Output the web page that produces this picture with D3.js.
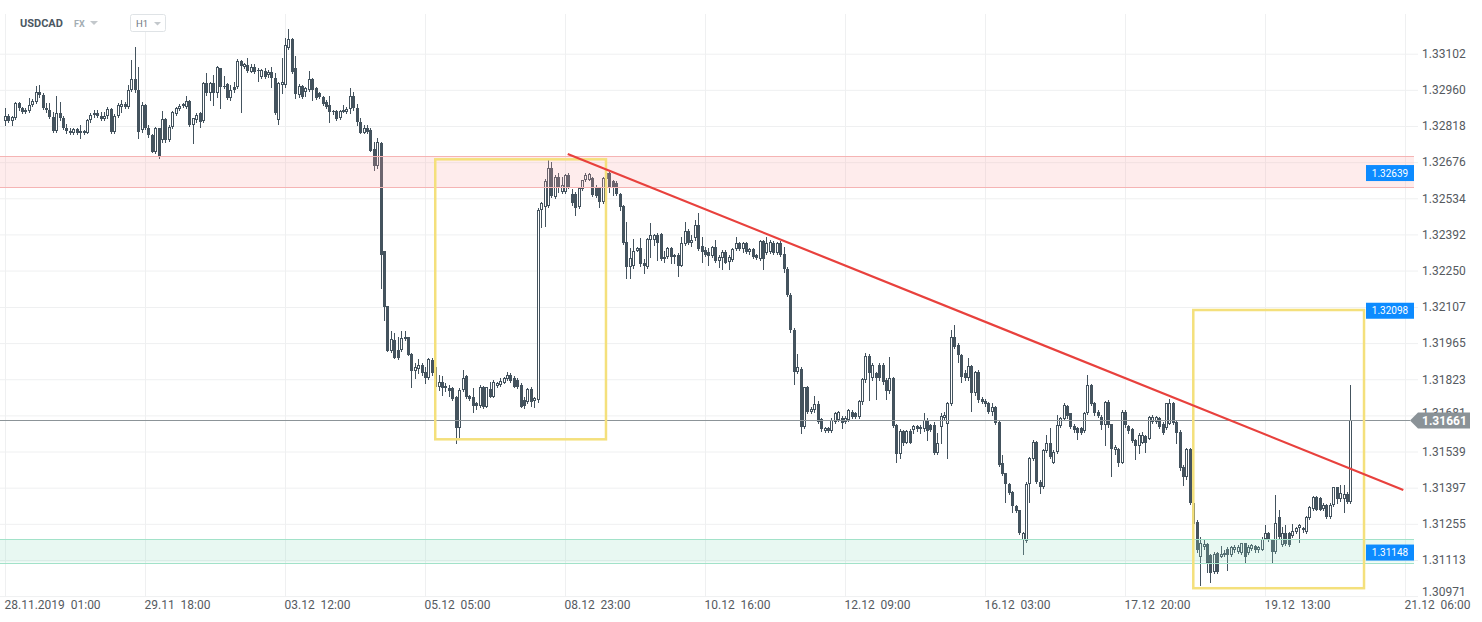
<!DOCTYPE html>
<html><head><meta charset="utf-8">
<script src="https://cdn.jsdelivr.net/npm/d3@7"></script>
<style>
html,body{margin:0;padding:0;background:#fff;overflow:hidden;}
svg{display:block;font-family:Roboto,"Noto Sans",sans-serif;}
</style></head><body>
<svg id="chart" width="1482" height="622"></svg>
<script>
const symbol = "USDCAD";
const market = "FX";
const interval = "H1";

const opens = [
1.32838,1.32859,1.32838,1.32851,1.32907,1.32887,1.32872,1.32877,1.32901,1.32911,
1.32953,1.32940,1.32887,1.32881,1.32855,1.32798,1.32868,1.32848,1.32809,1.32798,
1.32789,1.32805,1.32789,1.32798,1.32789,1.32842,1.32861,1.32868,1.32859,1.32844,
1.32859,1.32885,1.32793,1.32859,1.32894,1.32905,1.32894,1.32960,1.33003,1.32960,
1.32802,1.32901,1.32809,1.32783,1.32717,1.32809,1.32763,1.32844,1.32763,1.32815,
1.32864,1.32885,1.32897,1.32894,1.32916,1.32822,1.32842,1.32868,1.32838,1.32986,
1.32946,1.32986,1.32946,1.33045,1.32977,1.32982,1.32929,1.32973,1.32973,1.33074,
1.33051,1.33058,1.33032,1.33051,1.33038,1.33012,1.33034,1.33018,1.33029,1.33005,
1.32842,1.32979,1.32979,1.33126,1.33160,1.33045,1.32940,1.32977,1.32953,1.32960,
1.33003,1.32966,1.32946,1.32933,1.32914,1.32901,1.32877,1.32877,1.32848,1.32874,
1.32874,1.32885,1.32935,1.32890,1.32835,1.32792,1.32809,1.32803,1.32727,1.32661,
1.32753,1.32325,1.32111,1.31935,1.31977,1.31938,1.31938,1.31980,1.31988,1.31921,
1.31857,1.31862,1.31879,1.31853,1.31827,1.31899,1.31873,1.31794,1.31814,1.31787,
1.31787,1.31787,1.31755,1.31630,1.31781,1.31836,1.31757,1.31752,1.31728,1.31718,
1.31794,1.31715,1.31784,1.31755,1.31797,1.31801,1.31810,1.31823,1.31840,1.31827,
1.31820,1.31801,1.31742,1.31735,1.31784,1.31739,1.31742,1.32488,1.32501,1.32504,
1.32652,1.32538,1.32619,1.32560,1.32560,1.32626,1.32551,1.32551,1.32499,1.32570,
1.32604,1.32606,1.32613,1.32573,1.32573,1.32521,1.32609,1.32635,1.32600,1.32593,
1.32551,1.32504,1.32364,1.32263,1.32266,1.32328,1.32338,1.32281,1.32263,1.32370,
1.32370,1.32390,1.32394,1.32294,1.32302,1.32338,1.32311,1.32311,1.32268,1.32355,
1.32407,1.32359,1.32376,1.32429,1.32346,1.32330,1.32324,1.32307,1.32344,1.32289,
1.32298,1.32324,1.32285,1.32291,1.32333,1.32357,1.32333,1.32359,1.32324,1.32333,
1.32311,1.32294,1.32367,1.32320,1.32324,1.32359,1.32320,1.32359,1.32317,1.32255,
1.32154,1.32016,1.31852,1.31865,1.31636,1.31793,1.31695,1.31702,1.31725,1.31665,
1.31620,1.31630,1.31620,1.31656,1.31662,1.31669,1.31656,1.31662,1.31695,1.31691,
1.31673,1.31734,1.31820,1.31914,1.31826,1.31846,1.31879,1.31879,1.31820,1.31778,
1.31826,1.31643,1.31529,1.31620,1.31573,1.31620,1.31623,1.31639,1.31636,1.31626,
1.31662,1.31643,1.31643,1.31534,1.31636,1.31669,1.31647,1.31725,1.31987,1.31957,
1.31918,1.31848,1.31826,1.31875,1.31767,1.31852,1.31744,1.31738,1.31728,1.31695,
1.31712,1.31656,1.31492,1.31453,1.31413,1.31381,1.31324,1.31309,1.31191,1.31188,
1.31413,1.31508,1.31577,1.31420,1.31398,1.31542,1.31573,1.31495,1.31538,1.31639,
1.31665,1.31718,1.31689,1.31639,1.31630,1.31630,1.31621,1.31689,1.31800,1.31728,
1.31695,1.31676,1.31643,1.31735,1.31647,1.31545,1.31547,1.31495,1.31695,1.31639,
1.31626,1.31584,1.31560,1.31573,1.31600,1.31590,1.31656,1.31656,1.31669,1.31649,
1.31630,1.31649,1.31728,1.31656,1.31617,1.31479,1.31437,1.31547,1.31335,1.31263,
1.31125,1.31165,1.31175,1.31132,1.31066,1.31141,1.31125,1.31132,1.31158,1.31132,
1.31152,1.31145,1.31141,1.31178,1.31141,1.31158,1.31167,1.31152,1.31154,1.31197,
1.31220,1.31194,1.31145,1.31283,1.31171,1.31220,1.31220,1.31207,1.31224,1.31237,
1.31230,1.31224,1.31276,1.31315,1.31361,1.31355,1.31315,1.31328,1.31280,1.31328,
1.31398,1.31351,1.31351,1.31374,1.31342];

const highs = [
1.32890,1.32864,1.32859,1.32911,1.32911,1.32894,1.32890,1.32927,1.32924,1.32975,
1.32979,1.32946,1.32907,1.32907,1.32872,1.32937,1.32914,1.32859,1.32825,1.32809,
1.32809,1.32812,1.32822,1.32802,1.32846,1.32868,1.32881,1.32881,1.32872,1.32872,
1.32894,1.32890,1.32864,1.32907,1.32920,1.32911,1.32979,1.33077,1.33127,1.33051,
1.32914,1.32903,1.32822,1.32785,1.32815,1.32812,1.32877,1.32848,1.32822,1.32877,
1.32894,1.32903,1.32907,1.32937,1.32919,1.32851,1.32868,1.32872,1.32990,1.33025,
1.32990,1.33018,1.33055,1.33047,1.33016,1.32986,1.32979,1.32992,1.33081,1.33077,
1.33064,1.33087,1.33060,1.33060,1.33045,1.33042,1.33047,1.33038,1.33051,1.33025,
1.32992,1.33084,1.33163,1.33199,1.33163,1.33091,1.32982,1.32979,1.32973,1.33034,
1.33005,1.32973,1.32953,1.32937,1.32920,1.32937,1.32881,1.32881,1.32881,1.32901,
1.32894,1.32966,1.32950,1.32905,1.32850,1.32822,1.32822,1.32809,1.32757,1.32770,
1.32757,1.32325,1.32111,1.32014,1.32003,1.31990,1.32014,1.32014,1.31990,1.31925,
1.31888,1.31901,1.31888,1.31873,1.31905,1.31905,1.31879,1.31840,1.31836,1.31807,
1.31801,1.31794,1.31757,1.31787,1.31859,1.31840,1.31761,1.31787,1.31735,1.31801,
1.31797,1.31794,1.31814,1.31820,1.31814,1.31827,1.31831,1.31853,1.31846,1.31836,
1.31827,1.31807,1.31755,1.31787,1.31794,1.31752,1.32495,1.32521,1.32609,1.32685,
1.32678,1.32626,1.32632,1.32619,1.32630,1.32635,1.32570,1.32560,1.32573,1.32606,
1.32632,1.32635,1.32617,1.32587,1.32580,1.32617,1.32645,1.32639,1.32606,1.32600,
1.32554,1.32508,1.32442,1.32338,1.32373,1.32344,1.32377,1.32294,1.32377,1.32436,
1.32394,1.32397,1.32399,1.32325,1.32344,1.32342,1.32315,1.32318,1.32383,1.32442,
1.32412,1.32389,1.32448,1.32477,1.32380,1.32344,1.32337,1.32346,1.32372,1.32311,
1.32330,1.32330,1.32311,1.32337,1.32380,1.32363,1.32363,1.32363,1.32337,1.32337,
1.32317,1.32372,1.32372,1.32383,1.32372,1.32367,1.32363,1.32367,1.32344,1.32265,
1.32160,1.32023,1.31922,1.31872,1.31793,1.31796,1.31715,1.31757,1.31737,1.31669,
1.31636,1.31636,1.31669,1.31695,1.31699,1.31678,1.31678,1.31708,1.31702,1.31695,
1.31741,1.31826,1.31927,1.31922,1.31885,1.31852,1.31885,1.31885,1.31826,1.31909,
1.31830,1.31647,1.31626,1.31623,1.31623,1.31626,1.31643,1.31643,1.31643,1.31689,
1.31669,1.31647,1.31656,1.31610,1.31689,1.31695,1.31734,1.32016,1.32036,1.31964,
1.31922,1.31859,1.31905,1.31880,1.31856,1.31859,1.31754,1.31744,1.31734,1.31728,
1.31717,1.31662,1.31525,1.31456,1.31416,1.31385,1.31328,1.31311,1.31224,1.31420,
1.31518,1.31584,1.31581,1.31427,1.31547,1.31604,1.31630,1.31545,1.31682,1.31676,
1.31728,1.31723,1.31691,1.31649,1.31636,1.31636,1.31695,1.31839,1.31804,1.31735,
1.31702,1.31682,1.31738,1.31741,1.31649,1.31564,1.31551,1.31702,1.31702,1.31643,
1.31630,1.31590,1.31610,1.31617,1.31604,1.31678,1.31682,1.31678,1.31676,1.31656,
1.31731,1.31744,1.31735,1.31662,1.31623,1.31486,1.31551,1.31551,1.31338,1.31269,
1.31204,1.31191,1.31180,1.31138,1.31145,1.31145,1.31167,1.31152,1.31165,1.31167,
1.31171,1.31171,1.31180,1.31180,1.31171,1.31175,1.31171,1.31167,1.31204,1.31250,
1.31224,1.31197,1.31368,1.31309,1.31243,1.31250,1.31224,1.31254,1.31243,1.31254,
1.31243,1.31285,1.31325,1.31364,1.31364,1.31361,1.31335,1.31332,1.31335,1.31400,
1.31400,1.31407,1.31407,1.31381,1.31800];

const lows = [
1.32822,1.32832,1.32822,1.32846,1.32881,1.32868,1.32868,1.32872,1.32898,1.32907,
1.32933,1.32885,1.32872,1.32851,1.32796,1.32793,1.32842,1.32806,1.32789,1.32785,
1.32785,1.32785,1.32770,1.32785,1.32789,1.32835,1.32855,1.32855,1.32842,1.32842,
1.32848,1.32791,1.32791,1.32855,1.32874,1.32890,1.32890,1.32956,1.32953,1.32770,
1.32796,1.32806,1.32776,1.32715,1.32711,1.32694,1.32756,1.32756,1.32759,1.32812,
1.32861,1.32881,1.32894,1.32890,1.32819,1.32750,1.32835,1.32815,1.32835,1.32940,
1.32920,1.32901,1.32933,1.32887,1.32969,1.32924,1.32920,1.32953,1.32969,1.32874,
1.33047,1.33029,1.33029,1.33028,1.32995,1.33005,1.33008,1.33012,1.32973,1.32864,
1.32825,1.32946,1.32973,1.33120,1.33025,1.32927,1.32933,1.32927,1.32937,1.32956,
1.32920,1.32924,1.32929,1.32901,1.32887,1.32835,1.32864,1.32843,1.32846,1.32872,
1.32868,1.32870,1.32880,1.32820,1.32790,1.32790,1.32790,1.32721,1.32645,1.32652,
1.32180,1.32056,1.31935,1.31931,1.31905,1.31901,1.31935,1.31977,1.31918,1.31791,
1.31827,1.31846,1.31840,1.31807,1.31823,1.31840,1.31787,1.31781,1.31761,1.31778,
1.31757,1.31742,1.31574,1.31597,1.31778,1.31748,1.31742,1.31696,1.31705,1.31715,
1.31709,1.31712,1.31752,1.31752,1.31794,1.31797,1.31807,1.31820,1.31814,1.31791,
1.31787,1.31712,1.31709,1.31728,1.31718,1.31715,1.31735,1.32423,1.32425,1.32499,
1.32538,1.32534,1.32560,1.32556,1.32556,1.32573,1.32508,1.32469,1.32495,1.32567,
1.32600,1.32604,1.32543,1.32538,1.32499,1.32517,1.32606,1.32560,1.32547,1.32547,
1.32488,1.32355,1.32220,1.32220,1.32259,1.32325,1.32266,1.32240,1.32259,1.32305,
1.32351,1.32292,1.32292,1.32285,1.32298,1.32279,1.32279,1.32229,1.32266,1.32351,
1.32355,1.32346,1.32372,1.32330,1.32285,1.32307,1.32272,1.32302,1.32285,1.32265,
1.32255,1.32278,1.32255,1.32289,1.32330,1.32330,1.32324,1.32320,1.32317,1.32298,
1.32294,1.32291,1.32258,1.32317,1.32320,1.32317,1.32317,1.32307,1.32245,1.32150,
1.32010,1.31806,1.31848,1.31610,1.31630,1.31689,1.31689,1.31695,1.31652,1.31620,
1.31616,1.31616,1.31616,1.31652,1.31659,1.31630,1.31652,1.31659,1.31669,1.31669,
1.31669,1.31725,1.31813,1.31741,1.31820,1.31744,1.31820,1.31806,1.31744,1.31770,
1.31636,1.31499,1.31512,1.31564,1.31571,1.31571,1.31610,1.31620,1.31610,1.31620,
1.31584,1.31620,1.31529,1.31529,1.31573,1.31662,1.31512,1.31721,1.31944,1.31892,
1.31813,1.31820,1.31820,1.31699,1.31761,1.31734,1.31728,1.31717,1.31689,1.31682,
1.31647,1.31482,1.31446,1.31341,1.31374,1.31302,1.31302,1.31214,1.31138,1.31184,
1.31341,1.31505,1.31414,1.31377,1.31394,1.31538,1.31512,1.31492,1.31534,1.31636,
1.31662,1.31669,1.31630,1.31617,1.31587,1.31607,1.31617,1.31686,1.31721,1.31682,
1.31673,1.31626,1.31564,1.31636,1.31442,1.31531,1.31482,1.31492,1.31636,1.31610,
1.31577,1.31508,1.31534,1.31571,1.31538,1.31587,1.31652,1.31652,1.31630,1.31607,
1.31626,1.31647,1.31649,1.31571,1.31466,1.31407,1.31433,1.31332,1.31254,1.31145,
1.31014,1.31158,1.31066,1.31027,1.31063,1.31063,1.31123,1.31128,1.31073,1.31128,
1.31145,1.31141,1.31138,1.31102,1.31136,1.31152,1.31145,1.31145,1.31152,1.31194,
1.31188,1.31106,1.31141,1.31197,1.31167,1.31171,1.31167,1.31204,1.31220,1.31184,
1.31224,1.31220,1.31272,1.31311,1.31309,1.31309,1.31311,1.31276,1.31276,1.31325,
1.31338,1.31345,1.31302,1.31338,1.31338];

const closes = [
1.32859,1.32838,1.32853,1.32907,1.32887,1.32872,1.32881,1.32901,1.32916,1.32953,
1.32940,1.32887,1.32881,1.32855,1.32798,1.32868,1.32848,1.32809,1.32798,1.32789,
1.32805,1.32789,1.32798,1.32789,1.32842,1.32861,1.32868,1.32859,1.32844,1.32859,
1.32885,1.32793,1.32859,1.32901,1.32905,1.32894,1.32960,1.33003,1.32960,1.32796,
1.32901,1.32809,1.32783,1.32717,1.32809,1.32698,1.32844,1.32763,1.32815,1.32872,
1.32890,1.32897,1.32903,1.32916,1.32822,1.32848,1.32861,1.32835,1.32986,1.32946,
1.32986,1.32946,1.33051,1.32973,1.32973,1.32929,1.32960,1.32960,1.33074,1.33055,
1.33060,1.33034,1.33051,1.33032,1.33034,1.33038,1.33012,1.33032,1.33005,1.32868,
1.32986,1.32990,1.33136,1.33160,1.33032,1.32943,1.32977,1.32933,1.32966,1.33003,
1.32960,1.32929,1.32933,1.32903,1.32894,1.32872,1.32872,1.32846,1.32877,1.32881,
1.32885,1.32935,1.32890,1.32835,1.32792,1.32809,1.32796,1.32721,1.32661,1.32757,
1.32311,1.32108,1.31935,1.31980,1.31905,1.31905,1.31984,1.31990,1.31918,1.31857,
1.31870,1.31879,1.31846,1.31827,1.31901,1.31849,1.31794,1.31814,1.31787,1.31797,
1.31778,1.31744,1.31630,1.31781,1.31827,1.31752,1.31744,1.31718,1.31718,1.31794,
1.31715,1.31791,1.31755,1.31814,1.31807,1.31818,1.31827,1.31840,1.31818,1.31794,
1.31794,1.31715,1.31718,1.31784,1.31735,1.31748,1.32488,1.32517,1.32600,1.32652,
1.32541,1.32619,1.32580,1.32587,1.32626,1.32580,1.32514,1.32495,1.32573,1.32604,
1.32626,1.32630,1.32547,1.32543,1.32521,1.32613,1.32635,1.32580,1.32573,1.32551,
1.32499,1.32360,1.32263,1.32298,1.32328,1.32338,1.32276,1.32266,1.32373,1.32390,
1.32390,1.32360,1.32294,1.32302,1.32338,1.32305,1.32305,1.32268,1.32357,1.32407,
1.32357,1.32372,1.32429,1.32333,1.32324,1.32311,1.32307,1.32344,1.32289,1.32302,
1.32324,1.32281,1.32302,1.32333,1.32357,1.32333,1.32359,1.32324,1.32333,1.32302,
1.32298,1.32367,1.32294,1.32357,1.32363,1.32320,1.32359,1.32311,1.32255,1.32154,
1.32016,1.31852,1.31872,1.31636,1.31793,1.31695,1.31708,1.31725,1.31656,1.31626,
1.31630,1.31620,1.31662,1.31691,1.31695,1.31652,1.31669,1.31702,1.31673,1.31673,
1.31738,1.31822,1.31914,1.31846,1.31879,1.31826,1.31826,1.31813,1.31778,1.31826,
1.31639,1.31529,1.31620,1.31571,1.31620,1.31573,1.31639,1.31626,1.31626,1.31662,
1.31620,1.31623,1.31534,1.31573,1.31678,1.31682,1.31728,1.31990,1.31951,1.31918,
1.31830,1.31826,1.31875,1.31770,1.31852,1.31741,1.31734,1.31725,1.31695,1.31715,
1.31652,1.31486,1.31450,1.31411,1.31377,1.31324,1.31306,1.31217,1.31217,1.31413,
1.31512,1.31577,1.31420,1.31398,1.31545,1.31573,1.31516,1.31538,1.31643,1.31669,
1.31721,1.31678,1.31634,1.31623,1.31610,1.31613,1.31691,1.31800,1.31725,1.31689,
1.31678,1.31643,1.31735,1.31643,1.31547,1.31555,1.31495,1.31695,1.31643,1.31621,
1.31581,1.31560,1.31604,1.31604,1.31573,1.31673,1.31676,1.31673,1.31634,1.31613,
1.31728,1.31728,1.31652,1.31610,1.31473,1.31437,1.31547,1.31335,1.31256,1.31152,
1.31178,1.31175,1.31102,1.31063,1.31138,1.31066,1.31138,1.31141,1.31132,1.31162,
1.31165,1.31165,1.31178,1.31123,1.31165,1.31171,1.31152,1.31162,1.31197,1.31220,
1.31194,1.31145,1.31259,1.31204,1.31217,1.31175,1.31171,1.31228,1.31237,1.31250,
1.31237,1.31283,1.31322,1.31361,1.31311,1.31311,1.31328,1.31280,1.31328,1.31398,
1.31351,1.31377,1.31374,1.31342,1.31661];

const priceTicks = [1.33102,1.32960,1.32818,1.32676,1.32534,1.32392,1.32250,1.32107,
  1.31965,1.31823,1.31681,1.31539,1.31397,1.31255,1.31113,1.30971];
const timeTickBars = [0,41,82,123,164,205,246,287,328,369,410];
const timeTickLabels = ["28.11.2019  01:00","29.11  18:00","03.12  12:00","05.12  05:00",
  "08.12  23:00","10.12  16:00","12.12  09:00","16.12  03:00","17.12  20:00","19.12  13:00","21.12  06:00"];

const resistanceZone = [1.32700, 1.32578];
const supportZone = [1.31194, 1.31103];
const markerPrices = [1.32639, 1.32098, 1.31148];
const boxStartBars = [126, 348];
const boxEndBars = [176, 398];
const boxTops = [1.32687, 1.32095];
const boxBottoms = [1.31587, 1.31002];
const trendBars = [164.8, 409.5];
const trendPrices = [1.32708, 1.31388];
const lastPrice = 1.31661;

// ---------- drawing ----------
const svg = d3.select('#chart');
const RIGHT = 1418;
const x = d3.scaleLinear().domain([0, 410]).range([5, 1405]);
const y = d3.scaleLinear().domain([1.30971, 1.33102]).range([596.1, 53.7]);
const GRID = '#eff0f1';
const CANDLE = '#44535e';
const TEXT = '#555a5f';

// horizontal grid + price axis
const yAxis = d3.axisRight(y).tickValues(priceTicks).tickFormat(d3.format('.5f'))
  .tickSize(-RIGHT).tickPadding(4);
const gy = svg.append('g').attr('transform', `translate(${RIGHT},0)`).call(yAxis);
gy.select('.domain').remove();
gy.selectAll('.tick line').attr('stroke', GRID);
gy.selectAll('.tick text').attr('fill', TEXT).style('font-size', '12px')
  .style('font-family', 'Roboto');
gy.selectAll('.tick text').filter(d => d === priceTicks[priceTicks.length - 1]).attr('y', -4);
// the tick under the last-price tag is only partly visible, as in the original
gy.selectAll('.tick text').filter(d => d === 1.31681).attr('y', -3);

// vertical grid + time axis
const xAxis = d3.axisBottom(x).tickValues(timeTickBars).tickFormat((d, i) => timeTickLabels[i])
  .tickSize(-(597 - 14)).tickPadding(0);
const gx = svg.append('g').attr('transform', 'translate(0,597)').call(xAxis);
gx.select('.domain').remove();
gx.selectAll('.tick line').attr('stroke', GRID);
gx.selectAll('.tick text').attr('fill', TEXT).attr('text-anchor', 'start')
  .attr('x', -1).attr('y', 12).attr('dy', 0)
  .style('font-size', '12px').style('font-family', 'Roboto').style('white-space', 'pre');

// candles
const candles = d3.range(closes.length).map(i => ({i, o: opens[i], h: highs[i], l: lows[i], c: closes[i]}));
const gc = svg.append('g');
const cg = gc.selectAll('g.c').data(candles).join('g').attr('class', 'c');
cg.append('line')
  .attr('x1', d => Math.round(x(d.i)) + 0.5).attr('x2', d => Math.round(x(d.i)) + 0.5)
  .attr('y1', d => Math.round(y(d.h))).attr('y2', d => Math.round(y(d.l)) + 1)
  .attr('stroke', CANDLE).attr('stroke-width', 1);
cg.append('rect')
  .each(function (d) {
    const cx = Math.round(x(d.i));
    const r = d3.select(this);
    if (d.c < d.o) {
      const top = Math.round(y(d.o)), bot = Math.max(Math.round(y(d.c)), top + 1);
      r.attr('x', cx - 1).attr('width', 3).attr('y', top).attr('height', bot - top)
        .attr('fill', CANDLE);
    } else {
      const top = Math.round(y(d.c)), bot = Math.max(Math.round(y(d.o)), top + 2);
      r.attr('x', cx - 0.5).attr('width', 2).attr('y', top + 0.5).attr('height', bot - top - 1)
        .attr('fill', '#fff').attr('stroke', CANDLE).attr('stroke-width', 1);
    }
  });

// zones
function zone(z, fill, line) {
  const t = y(z[0]), b = y(z[1]);
  svg.append('rect').attr('x', 0).attr('width', 1414).attr('y', t).attr('height', b - t).attr('fill', fill);
  [t, b].forEach(v => svg.append('line').attr('x1', 0).attr('x2', 1414)
    .attr('y1', Math.round(v) + 0.5).attr('y2', Math.round(v) + 0.5).attr('stroke', line).attr('stroke-width', 1));
}
zone(resistanceZone, 'rgba(250,170,170,0.22)', '#f5b4b4');
zone(supportZone, 'rgba(150,225,195,0.22)', '#a2e2c9');

// last price line
const yl = Math.round(y(lastPrice)) + 0.5;
svg.append('line').attr('x1', 0).attr('x2', 1410).attr('y1', yl).attr('y2', yl)
  .attr('stroke', '#8c9498').attr('stroke-width', 1);

// yellow boxes
boxStartBars.forEach((s, k) => {
  svg.append('rect').attr('x', x(s)).attr('y', y(boxTops[k]))
    .attr('width', x(boxEndBars[k]) - x(s)).attr('height', y(boxBottoms[k]) - y(boxTops[k]))
    .attr('fill', 'none').attr('stroke', '#f4e07c').attr('stroke-width', 2.5);
});

// trend line
svg.append('line')
  .attr('x1', x(trendBars[0])).attr('y1', y(trendPrices[0]))
  .attr('x2', x(trendBars[1])).attr('y2', y(trendPrices[1]))
  .attr('stroke', '#e8413d').attr('stroke-width', 2.2);

// marker labels (blue)
markerPrices.forEach(p => {
  const cy = y(p) + 1.5;
  svg.append('rect').attr('x', 1366).attr('y', cy - 8).attr('width', 48).attr('height', 16).attr('fill', '#0d8bff');
  svg.append('text').attr('x', 1390).attr('y', cy).attr('dy', '0.35em').attr('text-anchor', 'middle')
    .attr('fill', '#fff').style('font-size', '10px').style('font-family', 'Roboto').text(d3.format('.5f')(p));
});

// last price label
const ly = y(lastPrice);
svg.append('path')
  .attr('d', `M1410,${ly} L1418,${ly - 8} L1470,${ly - 8} L1470,${ly + 8} L1418,${ly + 8} Z`)
  .attr('fill', '#8a9297');
svg.append('text').attr('x', 1422).attr('y', ly).attr('dy', '0.35em').attr('fill', '#fff')
  .style('font-size', '12px').style('font-weight', 'bold').style('font-family', 'Roboto')
  .text(d3.format('.5f')(lastPrice));

// header
svg.append('text').attr('x', 20).attr('y', 27).attr('fill', '#4c5862')
  .style('font-size', '11px').style('font-weight', 'bold').text(symbol);
svg.append('text').attr('x', 74).attr('y', 27).attr('fill', '#a3adb3')
  .style('font-size', '9px').style('font-weight', 'bold').text(market);
svg.append('path').attr('d', 'M90,21 L98,21 L94,25 Z').attr('fill', '#c3c8cc');
svg.append('rect').attr('x', 130.5).attr('y', 14.5).attr('width', 35).attr('height', 17).attr('rx', 2)
  .attr('fill', '#fff').attr('stroke', '#dfe3e6');
svg.append('text').attr('x', 136).attr('y', 27).attr('fill', '#6e7880')
  .style('font-size', '9.5px').text(interval);
svg.append('path').attr('d', 'M154,22 L161,22 L157.5,25.5 Z').attr('fill', '#c3c8cc');
</script>
</body></html>
